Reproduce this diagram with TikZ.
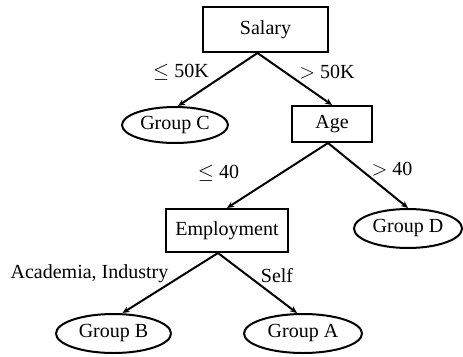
\documentclass[tikz,border=0pt]{standalone}
\usepackage{fontspec}
\setmainfont{Liberation Serif}
\usetikzlibrary{arrows.meta,shapes.geometric}

\begin{document}
\begin{tikzpicture}[x=1pt,y=-1pt,>=Stealth,font=\fontsize{20}{22}\selectfont]
  \tikzset{
    test/.style={draw,line width=2pt,rectangle,inner sep=0pt},
    leaf/.style={draw,line width=2pt,ellipse,inner sep=0pt},
    branch/.style={line width=2pt,-{Stealth[length=7pt,width=6pt]}},
    cond/.style={inner sep=0pt}
  }
  \useasboundingbox (0,0) rectangle (463,356);
  % inner tests
  \node[test,minimum width=125pt,minimum height=45pt] (salary) at (265.5,29.5) {Salary};
  \node[test,minimum width=80pt,minimum height=36pt] (age) at (332,124) {Age};
  \node[test,minimum width=122pt,minimum height=43pt] (employ) at (227,230.5) {Employment};
  % leaves
  \node[leaf,minimum width=106pt,minimum height=36pt] (groupC) at (175,125) {Group C};
  \node[leaf,minimum width=108pt,minimum height=39pt] (groupD) at (408,228.5) {Group D};
  \node[leaf,minimum width=115pt,minimum height=39pt] (groupB) at (113.5,333.5) {Group B};
  \node[leaf,minimum width=118pt,minimum height=39pt] (groupA) at (303,333.5) {Group A};
  % branches
  \draw[branch] ([xshift=-8pt]salary.south) -- ([xshift=3pt]groupC.north);
  \draw[branch] ([xshift=-8pt]salary.south) -- (age.north);
  \draw[branch] ([xshift=-4pt]age.south) -- (employ.north);
  \draw[branch] ([xshift=-4pt]age.south) -- (groupD.north);
  \draw[branch] ([xshift=-9pt]employ.south) -- ([xshift=9pt]groupB.north);
  \draw[branch] ([xshift=-9pt]employ.south) -- ([xshift=-6pt]groupA.north);
  % branch labels
  \node[cond] (le50) at (181,72) {$\leq$ 50K};
  \node[cond] (gt50) at (327,72) {$>$ 50K};
  \node[cond] (le40) at (218.5,173) {$\leq$ 40};
  \node[cond] (gt40) at (392,169) {$>$ 40};
  \node[cond] (acad) at (89.5,274) {Academia, Industry};
  \node[cond] (self) at (277,276) {Self};
\end{tikzpicture}
\end{document}
